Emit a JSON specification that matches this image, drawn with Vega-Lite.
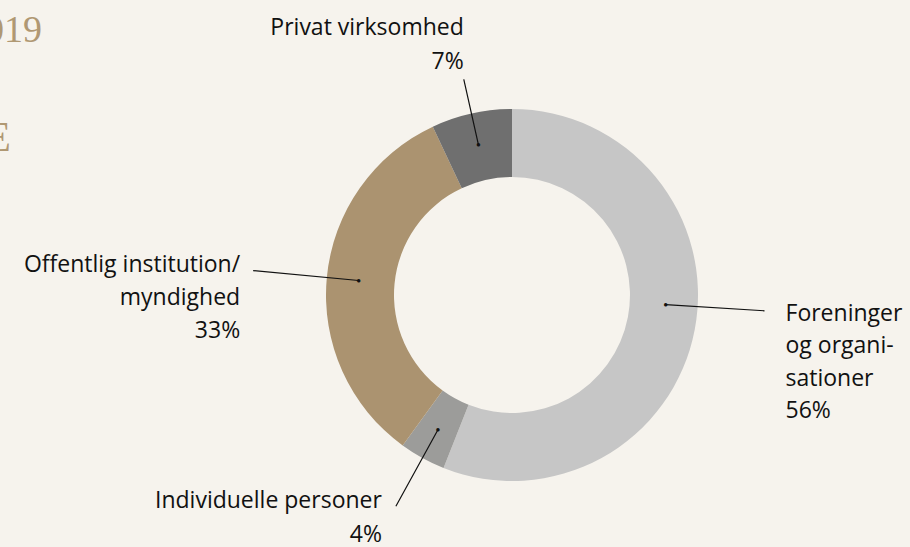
{
  "$schema": "https://vega.github.io/schema/vega-lite/v6.json",
  "width": 796,
  "height": 504,
  "autosize": {"type": "none"},
  "padding": {"left": 114, "top": 43, "right": 0, "bottom": 0},
  "background": "#f6f3ed",
  "config": {"view": {"stroke": null}, "text": {"font": "Open Sans"}},
  "title": {
    "text": "2019",
    "subtitle": "E\u2800",
    "anchor": "start",
    "align": "right",
    "frame": "group",
    "dx": -72,
    "dy": 146,
    "font": "Liberation Serif",
    "fontSize": 38,
    "fontWeight": "normal",
    "color": "#b09873",
    "subtitleFont": "Liberation Serif",
    "subtitleFontSize": 42,
    "subtitleColor": "#b09873",
    "subtitlePadding": 68
  },
  "data": {
    "values": [
      {"category": "Foreninger og organisationer", "label": "Foreninger\nog organi-\nsationer\n56%", "pct": 56, "order": 1},
      {"category": "Individuelle personer", "label": "Individuelle personer\n4%", "pct": 4, "order": 2},
      {"category": "Offentlig institution/myndighed", "label": "Offentlig institution/\nmyndighed\n33%", "pct": 33, "order": 3},
      {"category": "Privat virksomhed", "label": "Privat virksomhed\n7%", "pct": 7, "order": 4}
    ]
  },
  "transform": [
    {"stack": "pct", "groupby": [], "sort": [{"field": "order"}], "as": ["s0", "s1"]},
    {"calculate": "(datum.s0 + datum.s1) / 2", "as": "mid"}
  ],
  "layer": [
    {
      "mark": {"type": "arc", "radius": 186, "radius2": 118},
      "encoding": {
        "theta": {"field": "s0", "type": "quantitative", "stack": null, "scale": {"domain": [0, 100]}},
        "theta2": {"field": "s1"},
        "color": {
          "field": "category",
          "type": "nominal",
          "scale": {
            "domain": ["Foreninger og organisationer", "Individuelle personer", "Offentlig institution/myndighed", "Privat virksomhed"],
            "range": ["#c6c6c6", "#9c9c9a", "#ab9370", "#6f6f6f"]
          },
          "legend": null
        }
      }
    },
    {
      "transform": [{"filter": "datum.order == 1"}],
      "encoding": {"theta": {"field": "mid", "type": "quantitative", "stack": null, "scale": {"domain": [0, 100]}}},
      "layer": [
        {"mark": {"type": "arc", "radius": 253, "radius2": 154, "thetaOffset": -0.126, "theta2Offset": -0.126, "filled": false, "color": "#111111", "strokeWidth": 1.2}, "encoding": {"theta2": {"field": "mid"}}},
        {"mark": {"type": "text", "text": "●", "radius": 154, "thetaOffset": -0.126, "fontSize": 8, "align": "center", "baseline": "middle", "color": "#111111"}},
        {"mark": {"type": "text", "radius": 253, "thetaOffset": -0.126, "align": "left", "baseline": "alphabetic", "dx": 21, "dy": 10, "fontSize": 23, "lineHeight": 32.5, "lineBreak": "\n", "color": "#111111"}, "encoding": {"text": {"field": "label"}}}
      ]
    },
    {
      "transform": [{"filter": "datum.order == 2"}],
      "encoding": {"theta": {"field": "mid", "type": "quantitative", "stack": null, "scale": {"domain": [0, 100]}}},
      "layer": [
        {"mark": {"type": "arc", "radius": 241, "radius2": 154, "filled": false, "color": "#111111", "strokeWidth": 1.2}, "encoding": {"theta2": {"field": "mid"}}},
        {"mark": {"type": "text", "text": "●", "radius": 154, "fontSize": 8, "align": "center", "baseline": "middle", "color": "#111111"}},
        {"mark": {"type": "text", "radius": 241, "align": "right", "baseline": "alphabetic", "dx": -14, "dy": 2, "fontSize": 23, "lineHeight": 34, "lineBreak": "\n", "color": "#111111"}, "encoding": {"text": {"field": "label"}}}
      ]
    },
    {
      "transform": [{"filter": "datum.order == 3"}],
      "encoding": {"theta": {"field": "mid", "type": "quantitative", "stack": null, "scale": {"domain": [0, 100]}}},
      "layer": [
        {"mark": {"type": "arc", "radius": 260, "radius2": 154, "filled": false, "color": "#111111", "strokeWidth": 1.2}, "encoding": {"theta2": {"field": "mid"}}},
        {"mark": {"type": "text", "text": "●", "radius": 154, "fontSize": 8, "align": "center", "baseline": "middle", "color": "#111111"}},
        {"mark": {"type": "text", "radius": 260, "align": "right", "baseline": "alphabetic", "dx": -13, "dy": 1, "fontSize": 23, "lineHeight": 33, "lineBreak": "\n", "color": "#111111"}, "encoding": {"text": {"field": "label"}}}
      ]
    },
    {
      "transform": [{"filter": "datum.order == 4"}],
      "encoding": {"theta": {"field": "mid", "type": "quantitative", "stack": null, "scale": {"domain": [0, 100]}}},
      "layer": [
        {"mark": {"type": "arc", "radius": 221, "radius2": 154, "filled": false, "color": "#111111", "strokeWidth": 1.2}, "encoding": {"theta2": {"field": "mid"}}},
        {"mark": {"type": "text", "text": "●", "radius": 154, "fontSize": 8, "align": "center", "baseline": "middle", "color": "#111111"}},
        {"mark": {"type": "text", "radius": 221, "align": "right", "baseline": "alphabetic", "dx": 0, "dy": -44, "fontSize": 23, "lineHeight": 34, "lineBreak": "\n", "color": "#111111"}, "encoding": {"text": {"field": "label"}}}
      ]
    }
  ]
}
